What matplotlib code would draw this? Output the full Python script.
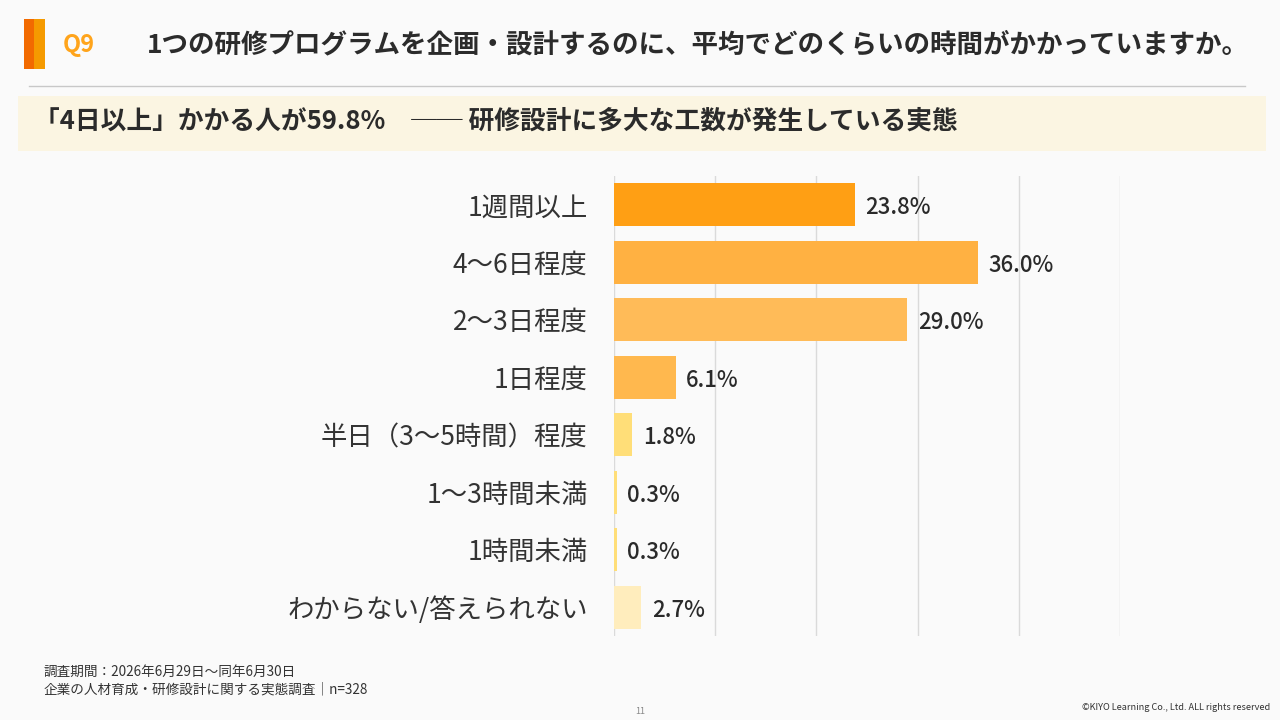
"""Q9 bar chart: time spent designing one training program."""

import matplotlib

matplotlib.use("Agg")

import matplotlib.pyplot as plt
from matplotlib.patches import Rectangle

plt.rcParams["font.family"] = ["Noto Sans CJK JP", "DejaVu Sans"]

CATEGORIES = [
    "1週間以上",
    "4～6日程度",
    "2～3日程度",
    "1日程度",
    "半日（3～5時間）程度",
    "1～3時間未満",
    "1時間未満",
    "わからない/答えられない",
]
VALUES = [23.8, 36.0, 29.0, 6.1, 1.8, 0.3, 0.3, 2.7]
BAR_COLORS = ["#FF9F14", "#FFB142", "#FFBB58", "#FFB84E",
              "#FFDE78", "#FFDE78", "#FFDE78", "#FFEDBD"]
X_TICKS = [0, 10, 20, 30, 40, 50]

TITLE = "1つの研修プログラムを企画・設計するのに、平均でどのくらいの時間がかかっていますか。"
SUBTITLE = "「4日以上」かかる人が59.8%　── 研修設計に多大な工数が発生している実態"
NOTES = ["調査期間：2026年6月29日～同年6月30日",
         "企業の人材育成・研修設計に関する実態調査｜n=328"]

W, H = 1280, 720
BG = "#FAFAFA"

fig = plt.figure(figsize=(W / 100, H / 100), dpi=100, facecolor=BG)


def px_rect(x0, y0, x1, y1, color):
    # rectangle given in pixel coords (origin top-left)
    fig.patches.append(Rectangle((x0 / W, 1 - y1 / H), (x1 - x0) / W, (y1 - y0) / H,
                                 transform=fig.transFigure, color=color, lw=0, zorder=0))


px_rect(24, 19, 34, 69, "#F26A00")
px_rect(34, 19, 45, 69, "#F59A00")
px_rect(18, 96, 1266, 151, "#FBF5E2")
fig.add_artist(plt.Line2D([29 / W, 1245 / W], [1 - 86 / H, 1 - 86 / H],
                          color="#C8C8C8", lw=1, transform=fig.transFigure))

fig.text(63 / W, 1 - 45 / H, "Q9", color="#FFA41B", fontsize=17, fontweight="bold", va="center")
fig.text(147 / W, 1 - 45 / H, TITLE, color="#2B2B2B", fontsize=19.1, fontweight="bold", va="center")
fig.text(34 / W, 1 - 121 / H, SUBTITLE, color="#2B2B2B", fontsize=18.5, fontweight="bold", va="center")

# bar chart
ax = fig.add_axes([614 / W, 1 - 636 / H, (1120 - 614) / W, (636 - 176) / H])
ax.set_facecolor(BG)
ypos = list(range(len(CATEGORIES)))
ax.barh(ypos, VALUES, height=0.75, color=BAR_COLORS, zorder=2)
ax.set_xlim(X_TICKS[0], X_TICKS[-1])
ax.set_ylim(len(CATEGORIES) - 0.5, -0.5)
ax.set_xticks(X_TICKS)
ax.xaxis.grid(True, color="#DADADA", lw=1, zorder=0)
ax.tick_params(axis="x", length=0, labelbottom=False)
ax.tick_params(axis="y", length=0, pad=19)
ax.set_yticks(ypos)
ax.set_yticklabels(CATEGORIES, fontsize=19, color="#333333")
for s in ax.spines.values():
    s.set_visible(False)

for y, v in zip(ypos, VALUES):
    ax.annotate(f"{v:.1f}%", (v, y), xytext=(7.5, -2), textcoords="offset points",
                va="center", ha="left", fontsize=16, fontweight="medium", color="#2A2A2A")

# footer
fig.text(44 / W, 1 - 672 / H, NOTES[0], fontsize=9.8, color="#333333", va="center")
fig.text(44 / W, 1 - 689 / H, NOTES[1], fontsize=9.8, color="#333333", va="center")
fig.text(640 / W, 1 - 711 / H, "11", fontsize=6.5, color="#888888", va="center", ha="center")
fig.text(1270 / W, 1 - 708 / H, "©KIYO Learning Co., Ltd. ALL rights reserved",
         fontsize=6.6, color="#333333", va="center", ha="right")

fig.savefig("out.png", dpi=100, facecolor=BG)
